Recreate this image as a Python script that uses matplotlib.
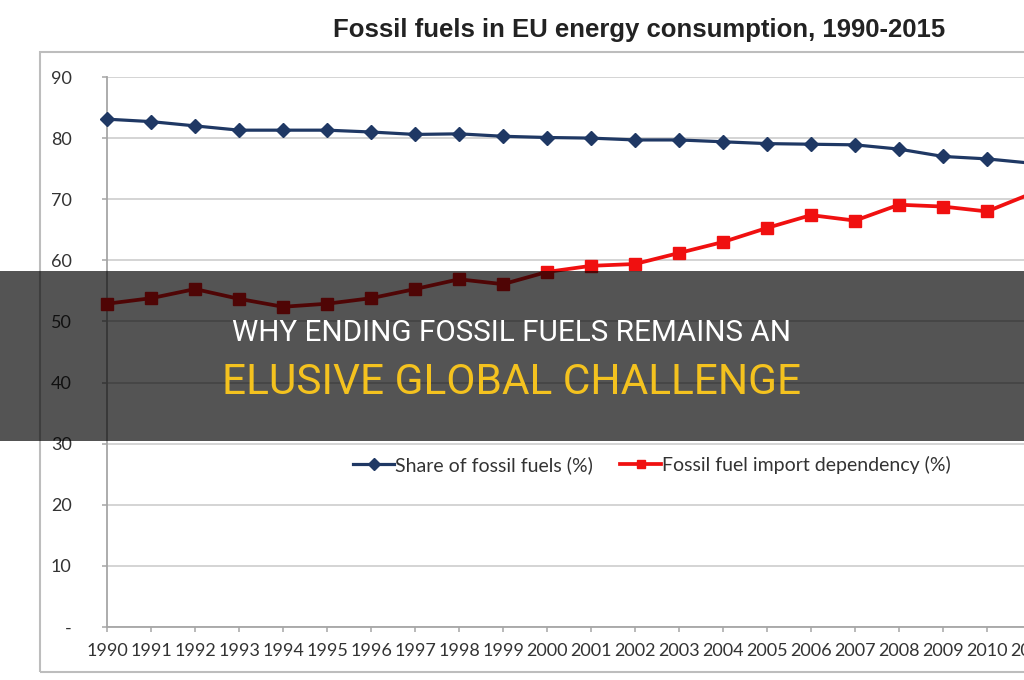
import matplotlib
matplotlib.use("Agg")
import matplotlib.pyplot as plt
from matplotlib.patches import Rectangle

years = list(range(1990, 2012))
share_fossil = [83.1, 82.7, 82.0, 81.3, 81.3, 81.3, 81.0, 80.6, 80.7, 80.3, 80.1,
                80.0, 79.7, 79.7, 79.4, 79.1, 79.0, 78.9, 78.2, 77.0, 76.6, 75.9]
import_dep = [52.9, 53.8, 55.3, 53.7, 52.4, 52.9, 53.8, 55.3, 56.9, 56.1, 58.1,
              59.1, 59.4, 61.2, 63.0, 65.3, 67.4, 66.5, 69.1, 68.8, 68.0, 70.9]
y_ticks = [0, 10, 20, 30, 40, 50, 60, 70, 80, 90]
y_labels = ['-', '10', '20', '30', '40', '50', '60', '70', '80', '90']
series_names = ['Share of fossil fuels (%)', 'Fossil fuel import dependency (%)']
title = 'Fossil fuels in EU energy consumption, 1990-2015'
banner_line1 = 'WHY ENDING FOSSIL FUELS REMAINS AN'
banner_line2 = 'ELUSIVE GLOBAL CHALLENGE'

W, H = 1024, 680
fig = plt.figure(figsize=(W / 100, H / 100), dpi=100)
fig.patch.set_facecolor('white')

# plot area in pixels
px_left, px_top, px_bottom = 107, 77, 627
px_per_year = 44.0
x_min, x_max = 1990, 2011.6
ax_w = (x_max - x_min) * px_per_year
ax = fig.add_axes([px_left / W, (H - px_bottom) / H, ax_w / W, (px_bottom - px_top) / H])
ax.set_xlim(x_min, x_max)
ax.set_ylim(0, 90)

grid_c = '#d4d4d4'
axis_c = '#a6a6a6'
ax.set_yticks(y_ticks)
ax.set_yticklabels(y_labels)
ax.set_xticks(years)
ax.set_xticklabels([str(y) for y in years])
ax.yaxis.grid(True, color=grid_c, linewidth=1.4)
ax.set_axisbelow(True)
for s in ['top', 'right']:
    ax.spines[s].set_visible(False)
for s in ['left', 'bottom']:
    ax.spines[s].set_color(axis_c)
    ax.spines[s].set_linewidth(1.3)

ax.tick_params(axis='y', length=3.5, color=axis_c, width=1.1, pad=22, labelcolor='#333333')
ax.tick_params(axis='x', length=3.5, color=axis_c, width=1.1, pad=8, labelcolor='#333333')
for lbl in ax.get_xticklabels() + ax.get_yticklabels():
    lbl.set_fontfamily('Lato')
    lbl.set_fontsize(13)

l1, = ax.plot(years, share_fossil, color='#1f3864', linewidth=2.3, marker='D',
              markersize=7, markerfacecolor='#1f3864', markeredgecolor='#1f3864',
              clip_on=False, zorder=5)
l2, = ax.plot(years, import_dep, color='#f01010', linewidth=2.7, marker='s',
              markersize=8.5, markerfacecolor='#f01010', markeredgecolor='#f01010',
              clip_on=False, zorder=5)

fig.legend([l1, l2], series_names, loc='center', bbox_to_anchor=(652 / W, (H - 465) / H),
           ncol=2, frameon=False, handlelength=2.1, handletextpad=0.05, columnspacing=1.4,
           prop=dict(family='Lato', size=14), labelcolor='#333333')
for h in fig.legends[0].legend_handles:
    h.set_markersize(6)

# outer chart border
fig.add_artist(Rectangle((40 / W, (H - 672) / H), 1.2, (672 - 52) / H,
                         transform=fig.transFigure, fill=False, edgecolor='#bdbdbd',
                         linewidth=1.5, zorder=1))

fig.text(639 / W, (H - 30) / H, title, ha='center', va='center',
         fontfamily='Liberation Sans', fontweight='bold', fontsize=18.5, color='#222222')

# banner overlay
fig.add_artist(Rectangle((0, (H - 441) / H), 1, 170 / H, transform=fig.transFigure,
                         facecolor='black', alpha=0.67, edgecolor='none', zorder=10))
fig.text(0.5, (H - 333) / H, banner_line1, ha='center', va='center',
         fontfamily='Roboto', fontsize=21.3, color='white', zorder=11)
fig.text(0.5, (H - 383) / H, banner_line2, ha='center', va='center',
         fontfamily='Roboto', fontsize=30.5, color='#f4c21f', zorder=11)

fig.savefig('out.png', dpi=100)
